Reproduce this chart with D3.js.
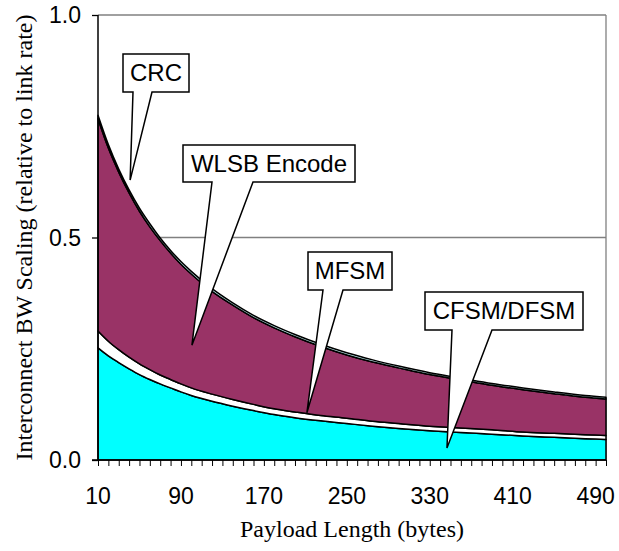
<!DOCTYPE html>
<html lang="en">
<head>
<meta charset="utf-8">
<title>Interconnect BW Scaling</title>
<script src="https://d3js.org/d3.v7.min.js"></script>
<style>
	body { margin: 0; background: #fff; }
	.tick-label { font-family: "Liberation Sans", Arial, sans-serif; font-size: 23px; fill: #000; }
	.axis-title { font-family: "Liberation Serif", "Times New Roman", serif; font-size: 24px; fill: #000; }
	.callout text { font-family: "Liberation Sans", Arial, sans-serif; font-size: 24px; fill: #000; }
</style>
</head>
<body>
<script>
// Payload lengths (bytes) at which the curves were read
var payload = [10, 20, 30, 40, 50, 60, 70, 80, 90, 100, 120, 140, 160, 180, 200,
               225, 250, 275, 300, 330, 360, 390, 420, 450, 480, 500];

// Layer values, bottom to top
var cfsm = [0.252, 0.234, 0.219, 0.205, 0.192, 0.181, 0.171, 0.162, 0.153, 0.145, 0.132, 0.121, 0.111,
            0.102, 0.095, 0.088, 0.082, 0.076, 0.071, 0.066, 0.062, 0.058, 0.054, 0.051, 0.048, 0.046];
var mfsm = [0.038, 0.033, 0.029, 0.026, 0.024, 0.022, 0.020, 0.019, 0.018, 0.017, 0.016, 0.015, 0.014,
            0.013, 0.013, 0.012, 0.012, 0.011, 0.011, 0.010, 0.010, 0.010, 0.009, 0.009, 0.009, 0.009];
var wlsb = [0.477, 0.434, 0.399, 0.369, 0.343, 0.321, 0.302, 0.284, 0.269, 0.256, 0.231, 0.212, 0.195,
            0.182, 0.169, 0.155, 0.142, 0.133, 0.125, 0.116, 0.108, 0.100, 0.095, 0.089, 0.084, 0.082];
var crc  = [0.008, 0.008, 0.007, 0.007, 0.007, 0.007, 0.006, 0.006, 0.006, 0.006, 0.006, 0.005, 0.005,
            0.005, 0.005, 0.005, 0.005, 0.005, 0.004, 0.004, 0.004, 0.004, 0.004, 0.004, 0.004, 0.004];

var seriesKeys = ["CFSM/DFSM", "MFSM", "WLSB Encode", "CRC"];
var seriesColors = ["#00ffff", "#ffffff", "#993366", "#ccffff"];

var xTickLabels = [10, 90, 170, 250, 330, 410, 490];
var yTickLabels = [0, 0.5, 1.0];

// Callouts: label, box [x0, y0, x1, y1], tail base [xa, xb], anchor point [payload, value]
var callouts = [
	{label: "CRC", box: [123, 54, 189, 92], base: [133, 152], at: [41, 0.629]},
	{label: "WLSB Encode", box: [183, 145, 355, 182], base: [212, 253], at: [100.6, 0.258]},
	{label: "MFSM", box: [308, 252, 392, 290], base: [323, 343], at: [211.5, 0.106]},
	{label: "CFSM/DFSM", box: [425, 292, 583, 330], base: [452, 492], at: [346.6, 0.027]}
];

var width = 619, height = 551;
var margin = {top: 15, right: 13, bottom: 91, left: 98};
var w = width - margin.left - margin.right;
var h = height - margin.top - margin.bottom;

var table = payload.map(function(p, i) {
	return {p: p, "CFSM/DFSM": cfsm[i], "MFSM": mfsm[i], "WLSB Encode": wlsb[i], "CRC": crc[i]};
});

var svg = d3.select("body").append("svg")
	.attr("width", width)
	.attr("height", height);

var g = svg.append("g")
	.attr("transform", "translate(" + margin.left + "," + margin.top + ")");

var xScale = d3.scaleLinear().domain([10, 500]).range([0, w]);
var yScale = d3.scaleLinear().domain([0, 1]).range([h, 0]);

// Gridlines and plot frame
g.selectAll(".grid")
	.data([0.5, 1.0])
	.enter().append("line")
	.attr("x1", 0).attr("x2", w)
	.attr("y1", function(d) { return yScale(d); })
	.attr("y2", function(d) { return yScale(d); })
	.attr("stroke", "#808080").attr("stroke-width", 1.3);
g.append("line")
	.attr("x1", w).attr("x2", w).attr("y1", 0).attr("y2", h)
	.attr("stroke", "#808080").attr("stroke-width", 1.3);

// Stacked areas
var stack = d3.stack().keys(seriesKeys);
var layers = stack(table);

var area = d3.area()
	.x(function(d) { return xScale(d.data.p); })
	.y0(function(d) { return yScale(d[0]); })
	.y1(function(d) { return yScale(d[1]); })
	.curve(d3.curveMonotoneX);

g.selectAll(".layer")
	.data(layers)
	.enter().append("path")
	.attr("class", "layer")
	.attr("d", area)
	.attr("fill", function(d, i) { return seriesColors[i]; })
	.attr("stroke", "#000")
	.attr("stroke-width", 1.5)
	.attr("stroke-linejoin", "round");

// Axes
var xAxis = d3.axisBottom(xScale)
	.tickValues(d3.range(10, 501, 10))
	.tickSize(6)
	.tickFormat("");
g.append("g")
	.attr("transform", "translate(0," + h + ")")
	.call(xAxis)
	.call(function(a) {
		a.select(".domain").remove();
		a.selectAll("line").attr("stroke", "#000").attr("stroke-width", 1);
	});
g.append("line")
	.attr("x1", -6).attr("x2", w).attr("y1", h).attr("y2", h)
	.attr("stroke", "#000").attr("stroke-width", 1.5);

var yAxis = d3.axisLeft(yScale)
	.tickValues(yTickLabels)
	.tickSize(6)
	.tickFormat("");
g.append("g")
	.call(yAxis)
	.call(function(a) {
		a.select(".domain").remove();
		a.selectAll("line").attr("stroke", "#000").attr("stroke-width", 1.3);
	});
g.append("line")
	.attr("x1", 0).attr("x2", 0).attr("y1", 0).attr("y2", h)
	.attr("stroke", "#000").attr("stroke-width", 1.5);

// Tick labels
g.selectAll(".xlab")
	.data(xTickLabels)
	.enter().append("text")
	.attr("class", "tick-label")
	.attr("x", function(d) { return xScale(d); })
	.attr("y", 504 - margin.top)
	.attr("text-anchor", "middle")
	.text(function(d) { return d; });

g.selectAll(".ylab")
	.data(yTickLabels)
	.enter().append("text")
	.attr("class", "tick-label")
	.attr("x", -17)
	.attr("y", function(d) { return yScale(d) + 8; })
	.attr("text-anchor", "end")
	.text(function(d) { return d3.format(".1f")(d); });

// Axis titles
svg.append("text")
	.attr("class", "axis-title")
	.attr("x", margin.left + w / 2)
	.attr("y", 537)
	.attr("text-anchor", "middle")
	.text("Payload Length (bytes)");

svg.append("text")
	.attr("class", "axis-title")
	.attr("transform", "translate(32," + (margin.top + h / 2) + ") rotate(-90)")
	.attr("text-anchor", "middle")
	.text("Interconnect BW Scaling (relative to link rate)");

// Callouts (box with a wedge pointing at the layer)
var co = svg.selectAll(".callout")
	.data(callouts)
	.enter().append("g")
	.attr("class", "callout");

co.append("path")
	.attr("d", function(d) {
		var b = d.box;
		var tx = margin.left + xScale(d.at[0]), ty = margin.top + yScale(d.at[1]);
		return "M" + b[0] + "," + b[1] + "L" + b[2] + "," + b[1] + "L" + b[2] + "," + b[3] +
			"L" + d.base[1] + "," + b[3] + "L" + tx + "," + ty + "L" + d.base[0] + "," + b[3] +
			"L" + b[0] + "," + b[3] + "Z";
	})
	.attr("fill", "#fff")
	.attr("stroke", "#000")
	.attr("stroke-width", 1.5)
	.attr("stroke-linejoin", "miter");

co.append("text")
	.attr("x", function(d) { return (d.box[0] + d.box[2]) / 2; })
	.attr("y", function(d) { return (d.box[1] + d.box[3]) / 2 + 8; })
	.attr("text-anchor", "middle")
	.text(function(d) { return d.label; });
</script>
</body>
</html>
